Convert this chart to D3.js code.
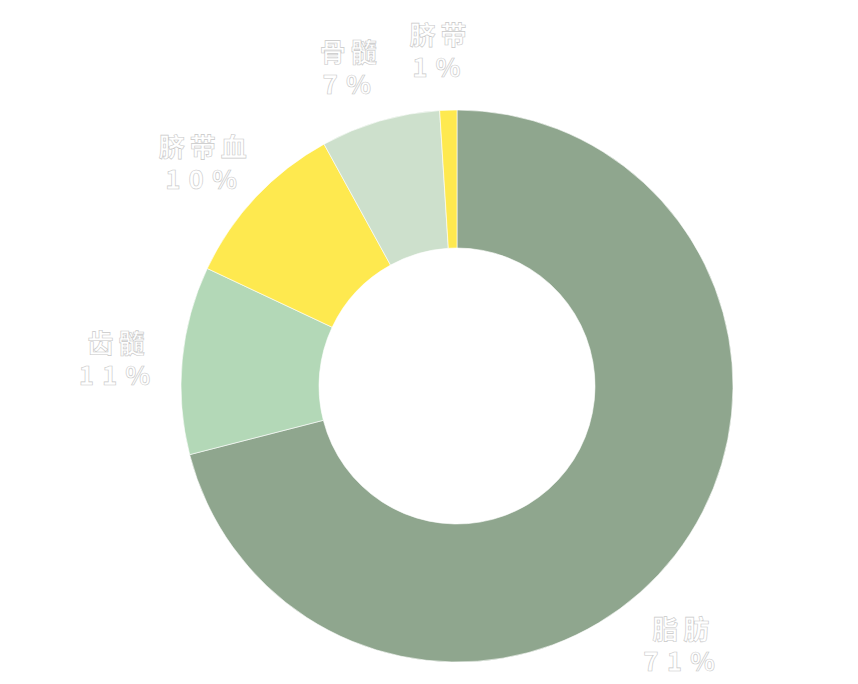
<!DOCTYPE html>
<html>
<head>
<meta charset="utf-8">
<script src="https://cdn.jsdelivr.net/npm/d3@7"></script>
<style>
  html, body { margin: 0; padding: 0; background: #fff; }
  text { font-family: "Noto Sans CJK SC", "Noto Sans", sans-serif; }
</style>
</head>
<body>
<svg id="chart" width="858" height="684"></svg>
<script>
// Chart data, clockwise from 12 o'clock
const aNames = ['脂肪', '齿髓', '脐带血', '骨髓', '脐带'];
const aValues = [71, 11, 10, 7, 1];
const aColours = ['#8fa68e', '#b3d8b7', '#fee94f', '#cde0cc', '#fee94f'];

const jCenter = { x: 457, y: 386 };
const iOuter = 276;
const iInner = 138;
const iLabelR = 340;
// small angular nudge for labels (degrees)
const aLabelShift = [10.5, 0, -1, -2, -1];

const oSvg = d3.select('#chart');
const oG = oSvg.append('g').attr('transform', `translate(${jCenter.x}, ${jCenter.y})`);

const oPie = d3.pie().sort(null).value(d => d);
const aArcs = oPie(aValues);
const oArc = d3.arc().innerRadius(iInner).outerRadius(iOuter);

oG.selectAll('path.slice')
  .data(aArcs)
  .enter()
  .append('path')
  .attr('class', 'slice')
  .attr('d', oArc)
  .attr('fill', (d, i) => aColours[i])
  .attr('stroke', '#ffffff')
  .attr('stroke-width', 0.6);

// Labels outside the ring
const aLabels = oG.selectAll('g.label')
  .data(aArcs)
  .enter()
  .append('g')
  .attr('class', 'label')
  .attr('transform', (d, i) => {
    const fA = (d.startAngle + d.endAngle) / 2 + aLabelShift[i] * Math.PI / 180;
    return `translate(${iLabelR * Math.sin(fA)}, ${-iLabelR * Math.cos(fA)})`;
  });

aLabels.append('text')
  .attr('text-anchor', 'middle')
  .attr('y', -1)
  .attr('font-size', 26)
  .attr('font-weight', 'bold')
  .attr('letter-spacing', 5)
  .attr('fill', '#ffffff')
  .attr('stroke', '#c8c8c8')
  .attr('stroke-width', 0.6)
  .text((d, i) => aNames[i]);

aLabels.append('text')
  .attr('text-anchor', 'middle')
  .attr('y', 31)
  .attr('font-size', 26)
  .attr('font-weight', 'bold')
  .attr('letter-spacing', 8)
  .attr('fill', '#ffffff')
  .attr('stroke', '#c8c8c8')
  .attr('stroke-width', 0.6)
  .text((d, i) => `${aValues[i]}%`);
</script>
</body>
</html>
